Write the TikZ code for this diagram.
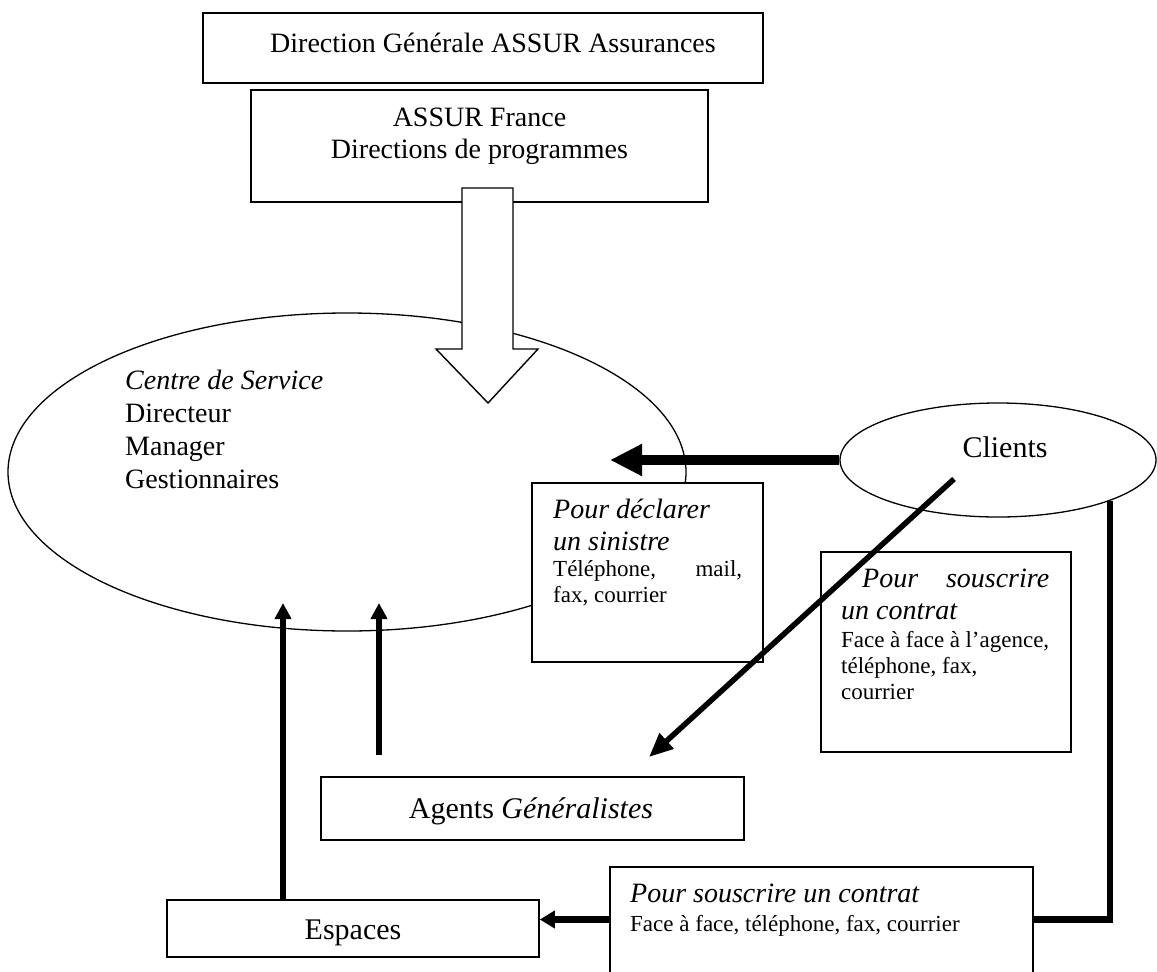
\documentclass[tikz,border=0pt]{standalone}
\usepackage{fontspec}
\setmainfont{Liberation Serif}
\usetikzlibrary{arrows.meta,shapes.geometric}

\newcommand\txtbig{\fontsize{28}{32}\selectfont}
\newcommand\txtlarge{\fontsize{30}{34}\selectfont}
\newcommand\txtsmall{\fontsize{23}{26}\selectfont}
% keep the spaces of the font in force
\newcommand\fontspaces{\spaceskip=0pt\xspaceskip=0pt\relax}

\tikzset{
	card/.style={draw, fill=white, line width=1.6pt, inner sep=0pt},
	cardtext/.style={anchor=base west, inner sep=0pt, align=flush left},
	bubble/.style={ellipse, draw, line width=1.3pt, inner sep=0pt},
	flow/.style={line width=6pt, -{Triangle[length=16pt,width=16pt]}},
	heavy/.style={line width=10pt, -{Triangle[length=32pt,width=30pt]}},
	slant/.style={line width=5.5pt, -{Triangle[length=24pt,width=20pt]}},
	route/.style={line width=6.5pt, line join=miter, -{Triangle[length=15pt,width=17pt]}},
}

\begin{document}
\begin{tikzpicture}[x=1pt, y=-1pt]
	\useasboundingbox (0,0) rectangle (1157,972);

	% Centre de service
	\node[bubble, minimum width=678, minimum height=318] (centre) at (347,472) {};
	\node[cardtext, text width=300pt, font=\fontsize{28}{33}\selectfont] (centretxt) at (125,389)
		{\fontspaces\textit{Centre de Service}\\ Directeur\\ Manager\\ Gestionnaires};

	% Direction
	\node[card, minimum width=560, minimum height=70] (groupe) at (483,48) {};
	\node[anchor=base, font=\txtbig] (groupetxt) at (493,52) {Direction Générale ASSUR Assurances};
	\node[card, minimum width=457, minimum height=112] (france) at (479.5,146) {};
	\node[anchor=base, inner sep=0pt, text width=457pt, align=flush center, font=\txtbig] (francetxt) at (479.5,126)
		{\fontspaces ASSUR France\\ Directions de programmes};

	% hollow arrow down
	\draw[line width=1.4pt, fill=white, line join=miter]
		(462,188) -- (513,188) -- (513,349) -- (538,349) -- (488,403) -- (436,349) -- (462,349) -- cycle;

	% Clients
	\node[bubble, fill=white, minimum width=316, minimum height=114] (clients) at (998,460) {};
	\node[anchor=base, font=\txtlarge] (clientstxt) at (1005,457) {Clients};

	% Espaces
	\node[card, minimum width=372, minimum height=57] (espaces) at (353,928.5) {};
	\node[anchor=base, font=\txtlarge] (espacestxt) at (353,939) {Espaces};
	\draw[route] (clients.south east) |- ([yshift=9pt]espaces.east);

	% channels
	\node[card, minimum width=231, minimum height=179] (declarer) at (647.5,572.5) {};
	\node[cardtext, text width=189pt] (declarertxt) at (553,518)
		{\fontspaces{\txtbig\itshape Pour déclarer\\ un sinistre\par}{\txtsmall Téléphone,\hfill mail,\\ fax, courrier\par}};

	\node[card, minimum width=250, minimum height=200] (souscrire) at (946,652) {};
	\node[cardtext, text width=208pt] (souscriretxt) at (841,587)
		{\fontspaces{\txtbig\itshape\hspace*{21pt}Pour\hfill souscrire\\ un contrat\par}\vspace{2pt}%
		{\txtsmall Face à face à l’agence,\\ téléphone, fax,\\ courrier\par}};

	\node[card, minimum width=423, minimum height=63] (agents) at (532.5,808.5) {};
	\node[anchor=base, font=\txtlarge] (agentstxt) at (531,818) {Agents \textit{Généralistes}};

	\node[card, minimum width=423, minimum height=140] (contrat) at (821.5,937) {};
	\node[cardtext, text width=400pt] (contrattxt) at (630,902)
		{\fontspaces{\txtbig\itshape Pour souscrire un contrat\par}\vspace{3pt}%
		{\txtsmall Face à face, téléphone, fax, courrier\par}};

	% arrows
	\coordinate (centrein) at (610,460);
	\draw[heavy] (clients.west) -- (centrein);

	\coordinate (upA) at (283,603);
	\draw[flow] (espaces.north -| upA) -- (upA);
	\coordinate (upBfrom) at (379,755);
	\coordinate (upB) at (379,603);
	\draw[flow] (upBfrom) -- (upB);

	\coordinate (slantfrom) at (954,479);
	\coordinate (slantto) at (649,757);
	\draw[slant] (slantfrom) -- (slantto);
\end{tikzpicture}
\end{document}
